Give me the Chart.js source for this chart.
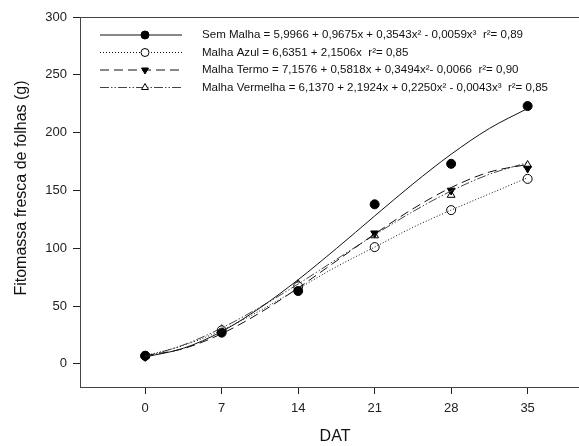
<!DOCTYPE html>
<html>
<head>
<meta charset="utf-8">
<script src="https://cdn.jsdelivr.net/npm/chart.js@4.4.0/dist/chart.umd.min.js"></script>
<style>
  html, body { margin: 0; padding: 0; background: #fff; }
  #wrap { width: 579px; height: 446px; }
</style>
</head>
<body>
<div id="wrap"><canvas id="chart" width="579" height="446"></canvas></div>
<script>
// measured days and observed values
const days = [0, 7, 14, 21, 28, 35];
const semMalha = [7, 27, 63, 138, 173, 223];
const malhaAzul = [7, 29, 67, 101, 133, 160];
const malhaTermo = [6, 28, 66, 113, 150, 169];
const malhaVermelha = [7, 30, 69, 111, 146, 172];

// fitted curves, every 3.5 days
const fitDays = [0, 3.5, 7, 10.5, 14, 17.5, 21, 24.5, 28, 31.5, 35];
const semMalhaFit = [6, 13.5, 28, 48.4, 72.8, 99.8, 127.9, 155.6, 181.3, 203.6, 220.9];
const malhaAzulFit = [7, 16, 29, 46, 65, 84, 101, 118, 133, 147, 161];
const malhaTermoFit = [7.2, 13.2, 26.1, 44.2, 65.7, 89, 112.3, 134.1, 152.5, 165.9, 172.5];
const malhaVermelhaFit = [6.1, 16.4, 31, 49, 69.1, 90.4, 111.6, 131.7, 149.5, 164, 174.1];

const xTicks = [0, 7, 14, 21, 28, 35];
const yTicks = [0, 50, 100, 150, 200, 250, 300];

const legendLabels = [
  'Sem Malha = 5,9966 + 0,9675x + 0,3543x\u00b2 - 0,0059x\u00b3  r\u00b2= 0,89',
  'Malha Azul = 6,6351 + 2,1506x  r\u00b2= 0,85',
  'Malha Termo = 7,1576 + 0,5818x + 0,3494x\u00b2- 0,0066  r\u00b2= 0,90',
  'Malha Vermelha = 6,1370 + 2,1924x + 0,2250x\u00b2 - 0,0043x\u00b3  r\u00b2= 0,85'
];

const FONT = '"Liberation Sans", Arial, sans-serif';

const styles = [
  { dash: [], color: '#111', pointStyle: 'circle', rotation: 0, fill: '#000' },
  { dash: [1, 2], color: '#111', pointStyle: 'circle', rotation: 0, fill: '#fff' },
  { dash: [9, 5], color: '#111', pointStyle: 'triangle', rotation: 180, fill: '#000' },
  { dash: [9, 2, 1.5, 2, 1.5, 2], color: '#444', pointStyle: 'triangle', rotation: 0, fill: '#fff' }
];

const observed = [semMalha, malhaAzul, malhaTermo, malhaVermelha];
const fits = [semMalhaFit, malhaAzulFit, malhaTermoFit, malhaVermelhaFit];

const toXY = (xs, ys) => xs.map((x, i) => ({ x: x, y: ys[i] }));

const datasets = [];
fits.forEach((f, i) => {
  datasets.push({
    data: toXY(fitDays, f),
    showLine: true,
    borderColor: styles[i].color,
    borderWidth: 1,
    borderDash: styles[i].dash,
    pointRadius: 0,
    cubicInterpolationMode: 'monotone',
    fill: false
  });
});
observed.forEach((o, i) => {
  datasets.push({
    data: toXY(days, o),
    showLine: false,
    pointStyle: styles[i].pointStyle,
    rotation: styles[i].rotation,
    pointRadius: 4.5,
    pointBorderWidth: 1,
    pointBorderColor: '#000',
    pointBackgroundColor: styles[i].fill
  });
});

const framePlugin = {
  id: 'frame',
  afterDraw(chart) {
    const ctx = chart.ctx;
    const a = chart.chartArea;
    ctx.save();
    // top border and bottom axis run to the canvas edge
    ctx.strokeStyle = '#444';
    ctx.lineWidth = 1;
    ctx.beginPath();
    ctx.moveTo(a.left, a.top + 0.5);
    ctx.lineTo(chart.width, a.top + 0.5);
    ctx.moveTo(a.left, a.bottom + 0.5);
    ctx.lineTo(chart.width, a.bottom + 0.5);
    ctx.stroke();

    // legend
    const rowY = [35, 52.5, 70, 87.5];
    ctx.font = '11px ' + FONT;
    const sx = 321 / ctx.measureText(legendLabels[0]).width;
    legendLabels.forEach((label, i) => {
      const s = styles[i];
      const y = rowY[i];
      ctx.strokeStyle = s.color;
      ctx.setLineDash(s.dash);
      ctx.beginPath();
      ctx.moveTo(100, y);
      ctx.lineTo(182, y);
      ctx.stroke();
      ctx.setLineDash([]);
      ctx.strokeStyle = '#000';
      ctx.fillStyle = s.fill;
      Chart.helpers.drawPoint(ctx, {
        pointStyle: s.pointStyle, rotation: s.rotation, radius: 4, borderWidth: 1
      }, 145, y);
      ctx.save();
      ctx.fillStyle = '#111';
      ctx.textAlign = 'left';
      ctx.textBaseline = 'middle';
      ctx.translate(202, y);
      ctx.scale(sx, 1);
      ctx.fillText(label, 0, 0);
      ctx.restore();
    });

    // axis titles
    ctx.fillStyle = '#111';
    ctx.font = '16px ' + FONT;
    ctx.textAlign = 'center';
    ctx.textBaseline = 'middle';
    ctx.fillText('DAT', 335, 437);
    ctx.translate(22, 188);
    ctx.rotate(-Math.PI / 2);
    ctx.fillText('Fitomassa fresca de folhas (g)', 0, 0);
    ctx.restore();
  }
};

new Chart(document.getElementById('chart'), {
  type: 'scatter',
  data: { datasets: datasets },
  options: {
    responsive: false,
    animation: false,
    devicePixelRatio: 1,
    layout: { padding: { top: 17, right: 0, left: 0, bottom: 0 } },
    plugins: { legend: { display: false }, tooltip: { enabled: false } },
    scales: {
      x: {
        type: 'linear',
        min: -5.97,
        max: 39.2,
        afterBuildTicks: s => { s.ticks = xTicks.map(v => ({ value: v })); },
        afterFit: s => { s.height = 59; },
        grid: { drawOnChartArea: false, drawTicks: true, tickLength: 7, tickColor: '#222' },
        border: { color: '#444', width: 1 },
        ticks: { color: '#222', padding: 7, maxRotation: 0, font: { family: FONT, size: 13 } }
      },
      y: {
        type: 'linear',
        min: -20,
        max: 300,
        afterBuildTicks: s => { s.ticks = yTicks.map(v => ({ value: v })); },
        afterFit: s => { s.width = 80; },
        grid: { drawOnChartArea: false, drawTicks: true, tickLength: 7, tickColor: '#222' },
        border: { color: '#444', width: 1 },
        ticks: { color: '#222', padding: 6, font: { family: FONT, size: 13 } }
      }
    }
  },
  plugins: [framePlugin]
});
</script>
</body>
</html>
